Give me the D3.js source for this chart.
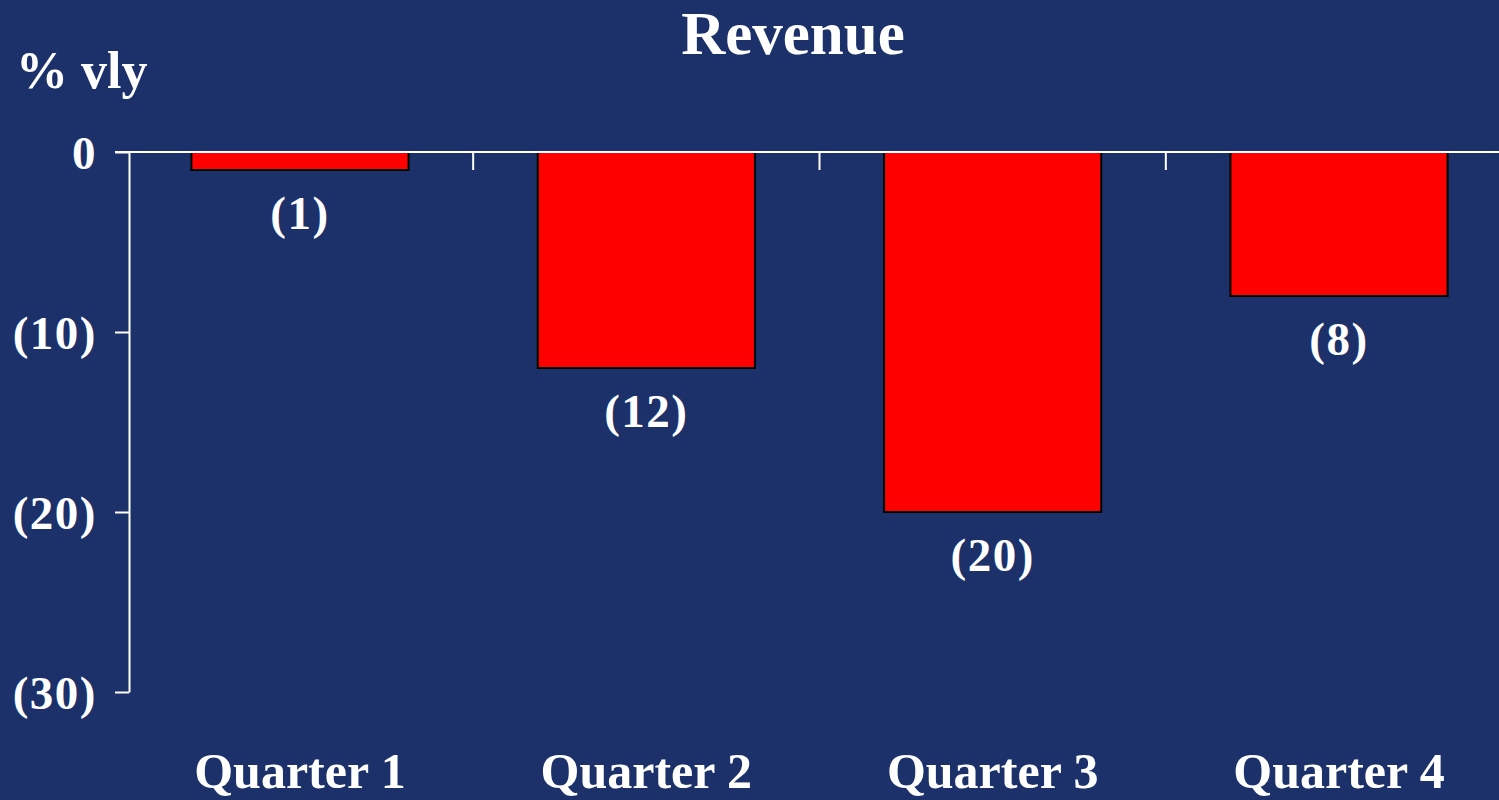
<!DOCTYPE html>
<html><head><meta charset="utf-8">
<script src="https://cdn.jsdelivr.net/npm/d3@7"></script>
<style>html,body{margin:0;padding:0;background:#1c316a;}svg{display:block;}</style>
</head><body>
<script>
const categories = ["Quarter 1", "Quarter 2", "Quarter 3", "Quarter 4"];
const values = [-1, -12, -20, -8];
const yTicks = [0, -10, -20, -30];
const title = "Revenue";
const yUnit = "% vly";

const W = 1499, H = 800;
const fmt = v => v < 0 ? "(" + Math.abs(v) + ")" : String(v);
const font = "'Liberation Serif','Times New Roman',serif";

const svg = d3.select("body").append("svg").attr("width", W).attr("height", H);
svg.append("rect").attr("width", W).attr("height", H).attr("fill", "#1c316a");

const x = d3.scaleBand().domain(categories).range([127, 1512]).paddingInner(0.373).paddingOuter(0.186);
const y = d3.scaleLinear().domain([-30, 0]).range([692, 152]);

// bars
svg.selectAll("rect.bar").data(values).join("rect").attr("class", "bar")
  .attr("x", (d, i) => x(categories[i]))
  .attr("y", y(0))
  .attr("width", x.bandwidth())
  .attr("height", d => y(d) - y(0))
  .attr("fill", "#ff0000").attr("stroke", "#000").attr("stroke-width", 2);

// value labels
svg.selectAll("text.val").data(values).join("text").attr("class", "val")
  .attr("x", (d, i) => x(categories[i]) + x.bandwidth() / 2)
  .attr("y", d => y(d) + 59)
  .attr("text-anchor", "middle").attr("fill", "#fff")
  .style("font-family", font).style("font-weight", "bold").style("font-size", "47px")
  .style("letter-spacing", "1.5px")
  .text(fmt);

// y axis
const yAxis = svg.append("g").attr("transform", "translate(129,0)")
  .call(d3.axisLeft(y).tickValues(yTicks).tickSize(14).tickSizeOuter(0).tickFormat(fmt));
yAxis.select(".domain").attr("stroke", "#fff").attr("stroke-width", 2);
yAxis.selectAll(".tick line").attr("stroke", "#fff").attr("stroke-width", 2);
yAxis.selectAll(".tick text").attr("fill", "#fff").attr("x", -32).attr("dy", "0.35em")
  .style("font-family", font).style("font-weight", "bold").style("font-size", "47px")
  .style("letter-spacing", "1.5px");

// zero line
svg.append("line").attr("x1", 115).attr("x2", W).attr("y1", y(0)).attr("y2", y(0))
  .attr("stroke", "#fff").attr("stroke-width", 2);

// category separators
svg.selectAll("line.sep").data(categories.slice(1)).join("line").attr("class", "sep")
  .attr("x1", d => x(d) - x.step() * x.paddingInner() / 2)
  .attr("x2", d => x(d) - x.step() * x.paddingInner() / 2)
  .attr("y1", y(0)).attr("y2", y(0) + 18)
  .attr("stroke", "#fff").attr("stroke-width", 2);

// category labels
svg.selectAll("text.cat").data(categories).join("text").attr("class", "cat")
  .attr("x", d => x(d) + x.bandwidth() / 2).attr("y", 788)
  .attr("text-anchor", "middle").attr("fill", "#fff")
  .style("font-family", font).style("font-weight", "bold").style("font-size", "50px")
  .text(d => d);

svg.append("text").attr("x", 793).attr("y", 54).attr("text-anchor", "middle").attr("fill", "#fff")
  .style("font-family", font).style("font-weight", "bold").style("font-size", "61px").text(title);
svg.append("text").attr("x", 16).attr("y", 88).attr("fill", "#fff")
  .style("font-family", font).style("font-weight", "bold").style("font-size", "52px").text(yUnit);
</script>
</body></html>
